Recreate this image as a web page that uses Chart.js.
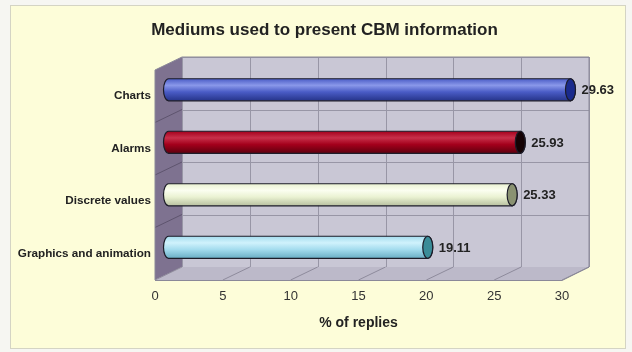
<!DOCTYPE html>
<html lang="en">
<head>
    <meta charset="UTF-8">
    <title>Mediums used to present CBM information</title>
    <script src="https://cdn.jsdelivr.net/npm/chart.js"></script>
    <style>
        body {
            margin: 0;
            background: #f6f6f2;
        }
        canvas {
            display: block;
        }
    </style>
</head>
<body>

<canvas id="cbmChart" width="632" height="352"></canvas>

<script>
    const categories = ['Charts', 'Alarms', 'Discrete values', 'Graphics and animation'];
    const replies = [29.63, 25.93, 25.33, 19.11];
    const xTicks = [0, 5, 10, 15, 20, 25, 30];

    // colours of each cylinder: top, middle, bottom, end cap
    const barColors = [
        ['#8a98ea', '#4a5cc6', '#26348a', '#1a2a8c'],
        ['#c8304a', '#a4001c', '#5e000e', '#140204'],
        ['#fbfef0', '#eaf2d2', '#b8c0a0', '#8a9272'],
        ['#d0f2fc', '#a4dcee', '#6aaec4', '#3a8c98']
    ];

    const fontFamily = '"Liberation Sans", Arial, sans-serif';
    const depthX = 27, depthY = -13;

    // page panel behind everything
    const panelPlugin = {
        id: 'panel',
        beforeDraw(chart) {
            const ctx = chart.ctx;
            ctx.save();
            ctx.fillStyle = '#f6f6f2';
            ctx.fillRect(0, 0, chart.width, chart.height);
            ctx.fillStyle = '#fdfdd9';
            ctx.fillRect(10, 5, 616, 344);
            ctx.strokeStyle = '#d4d4c4';
            ctx.lineWidth = 1;
            ctx.strokeRect(10.5, 5.5, 615, 343);
            ctx.restore();
        }
    };

    // back wall, side wall and floor of the 3D box
    const wallPlugin = {
        id: 'walls',
        beforeDatasetsDraw(chart) {
            const ctx = chart.ctx;
            const xs = chart.scales.x;
            const left = xs.getPixelForValue(0), right = xs.getPixelForValue(30);
            const top = chart.chartArea.top, bottom = chart.chartArea.bottom;
            const band = (bottom - top) / categories.length;
            ctx.save();
            ctx.lineWidth = 1;

            // back wall
            ctx.fillStyle = '#c9c7d5';
            ctx.fillRect(left + depthX, top + depthY, right - left, bottom - top);
            ctx.strokeStyle = '#9896a6';
            xTicks.forEach(t => {
                const px = Math.round(xs.getPixelForValue(t) + depthX) + 0.5;
                ctx.beginPath();
                ctx.moveTo(px, top + depthY);
                ctx.lineTo(px, bottom + depthY);
                ctx.stroke();
            });
            for (let i = 0; i <= categories.length; i++) {
                const py = Math.round(top + i * band + depthY) + 0.5;
                ctx.beginPath();
                ctx.moveTo(left + depthX, py);
                ctx.lineTo(right + depthX, py);
                ctx.stroke();
            }

            // left side wall
            ctx.fillStyle = '#7e7290';
            ctx.beginPath();
            ctx.moveTo(left, top);
            ctx.lineTo(left + depthX, top + depthY);
            ctx.lineTo(left + depthX, bottom + depthY);
            ctx.lineTo(left, bottom);
            ctx.closePath();
            ctx.fill();
            ctx.strokeStyle = '#5e546e';
            for (let i = 1; i < categories.length; i++) {
                const py = top + i * band;
                ctx.beginPath();
                ctx.moveTo(left, py);
                ctx.lineTo(left + depthX, py + depthY);
                ctx.stroke();
            }

            // floor
            ctx.fillStyle = '#bcb9c9';
            ctx.beginPath();
            ctx.moveTo(left, bottom);
            ctx.lineTo(right, bottom);
            ctx.lineTo(right + depthX, bottom + depthY);
            ctx.lineTo(left + depthX, bottom + depthY);
            ctx.closePath();
            ctx.fill();
            ctx.strokeStyle = '#8e8b9c';
            xTicks.forEach(t => {
                const px = xs.getPixelForValue(t);
                ctx.beginPath();
                ctx.moveTo(px, bottom);
                ctx.lineTo(px + depthX, bottom + depthY);
                ctx.stroke();
            });
            ctx.strokeStyle = '#8a8898';
            ctx.beginPath();
            ctx.moveTo(left, bottom + 0.5);
            ctx.lineTo(right, bottom + 0.5);
            ctx.lineTo(right + depthX, bottom + depthY);
            ctx.lineTo(right + depthX, top + depthY);
            ctx.lineTo(left + depthX, top + depthY);
            ctx.lineTo(left, top);
            ctx.lineTo(left, bottom);
            ctx.stroke();
            ctx.restore();
        }
    };

    // cylinders and value labels, placed from the bar elements
    const cylinderPlugin = {
        id: 'cylinders',
        afterDatasetsDraw(chart) {
            const ctx = chart.ctx;
            const meta = chart.getDatasetMeta(0);
            const dx = depthX / 2, dy = depthY / 2;
            ctx.save();
            meta.data.forEach((bar, i) => {
                const xs = bar.base + dx, xe = bar.x + dx;
                const yc = bar.y + dy;
                const r = bar.height / 2, rx = 5;
                const c = barColors[i];
                const grad = ctx.createLinearGradient(0, yc - r, 0, yc + r);
                grad.addColorStop(0, c[1]);
                grad.addColorStop(0.3, c[0]);
                grad.addColorStop(0.6, c[1]);
                grad.addColorStop(1, c[2]);

                ctx.beginPath();
                ctx.moveTo(xs, yc - r);
                ctx.lineTo(xe, yc - r);
                ctx.ellipse(xe, yc, rx, r, 0, -Math.PI / 2, Math.PI / 2);
                ctx.lineTo(xs, yc + r);
                ctx.ellipse(xs, yc, rx, r, 0, Math.PI / 2, Math.PI * 1.5);
                ctx.closePath();
                ctx.fillStyle = grad;
                ctx.fill();
                ctx.strokeStyle = '#1c1c28';
                ctx.lineWidth = 1.2;
                ctx.stroke();

                ctx.beginPath();
                ctx.ellipse(xe, yc, rx, r, 0, 0, Math.PI * 2);
                ctx.fillStyle = c[3];
                ctx.fill();
                ctx.stroke();

                ctx.fillStyle = '#222';
                ctx.font = 'bold 13px ' + fontFamily;
                ctx.textAlign = 'left';
                ctx.textBaseline = 'middle';
                ctx.fillText(replies[i].toFixed(2), xe + rx + 6, yc + 1);
            });
            ctx.restore();
        }
    };

    new Chart(document.getElementById('cbmChart').getContext('2d'), {
        type: 'bar',
        data: {
            labels: categories,
            datasets: [{
                data: replies,
                backgroundColor: 'rgba(0,0,0,0)',
                borderWidth: 0,
                barPercentage: 0.42,
                categoryPercentage: 1
            }]
        },
        options: {
            indexAxis: 'y',
            responsive: false,
            animation: false,
            layout: { padding: { left: 17, right: 0, top: 0, bottom: 0 } },
            plugins: {
                legend: { display: false },
                tooltip: { enabled: false },
                title: {
                    display: true,
                    text: 'Mediums used to present CBM information',
                    color: '#222',
                    font: { family: fontFamily, size: 17, weight: 'bold' },
                    padding: { top: 20, bottom: 29.6 }
                }
            },
            scales: {
                x: {
                    min: 0,
                    max: 30,
                    afterBuildTicks: scale => {
                        scale.ticks = xTicks.map(v => ({ value: v }));
                    },
                    ticks: {
                        padding: 9,
                        color: '#333',
                        font: { family: fontFamily, size: 13 }
                    },
                    grid: { display: false, drawTicks: false },
                    border: { display: false },
                    title: {
                        display: true,
                        text: '% of replies',
                        color: '#222',
                        font: { family: fontFamily, size: 14, weight: 'bold' },
                        padding: { top: 4, bottom: 20 }
                    },
                    afterFit: scale => { scale.height = 72; }
                },
                y: {
                    ticks: {
                        padding: 4,
                        color: '#222',
                        font: { family: fontFamily, size: 11.7, weight: 'bold' }
                    },
                    grid: { display: false, drawTicks: false },
                    border: { display: false },
                    afterFit: scale => { scale.width = 138; }
                },
                // empty right axis keeps room for the 3D depth and value labels
                y2: {
                    type: 'category',
                    position: 'right',
                    ticks: { display: false },
                    grid: { display: false, drawTicks: false },
                    border: { display: false },
                    afterFit: scale => { scale.width = 70; }
                }
            }
        },
        plugins: [panelPlugin, wallPlugin, cylinderPlugin]
    });
</script>

</body>
</html>
